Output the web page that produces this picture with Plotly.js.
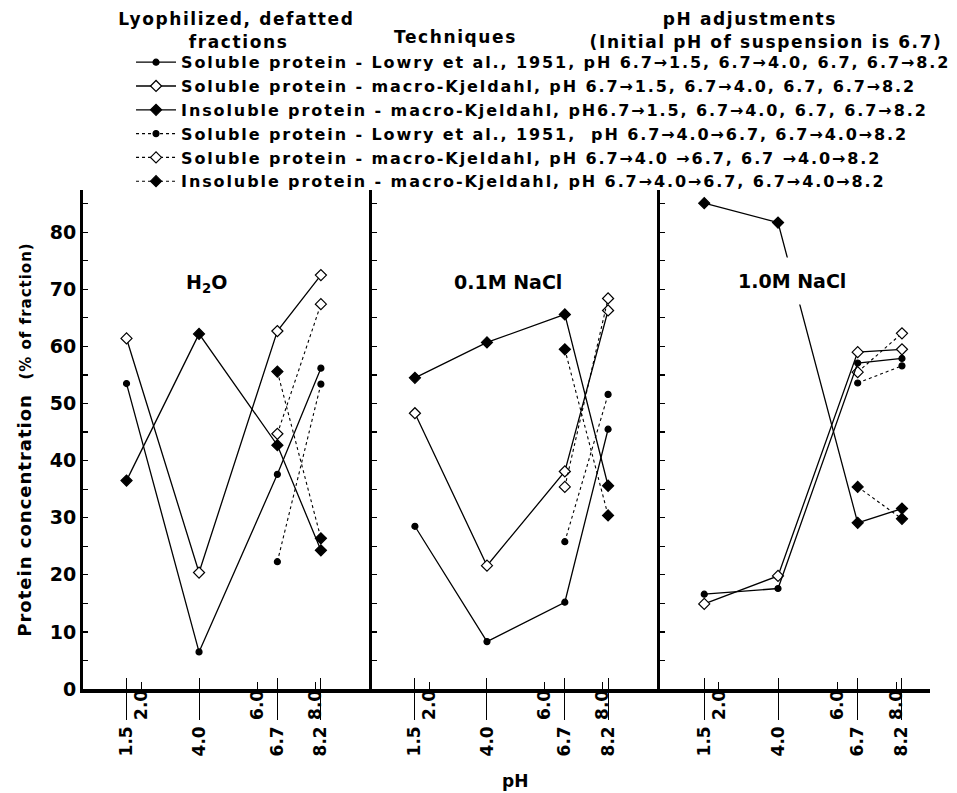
<!DOCTYPE html>
<html>
<head>
<meta charset="utf-8">
<script src="https://cdn.plot.ly/plotly-3.0.1.min.js"></script>
<style>
html,body{margin:0;padding:0;background:#fff;}
#chart{width:957px;height:793px;}
#chart .legendtext{letter-spacing:1.9px;}
#chart .legend g{clip-path:none !important;}
#chart .ytitle{letter-spacing:1px;}
#chart g.annotation[data-index="3"] text,
#chart g.annotation[data-index="4"] text,
#chart g.annotation[data-index="5"] text,
#chart g.annotation[data-index="6"] text,
#chart g.annotation[data-index="7"] text{letter-spacing:1.6px;}
</style>
</head>
<body>
<div id="chart"></div>
<script>
// ---------- data ----------
const panelNames = ['H<sub>2</sub>O', '0.1M NaCl', '1.0M NaCl'];
const solidX = [1.5, 4.0, 6.7, 8.2];
const dottedX = [6.7, 8.2];

// solid series (pH 6.7->1.5, 6.7->4.0, 6.7, 6.7->8.2), one row per panel
const lowrySolid   = [[53.5, 6.5, 37.6, 56.2], [28.5, 8.3, 15.2, 45.5], [16.6, 17.6, 57.1, 57.9]];
const kjSolSolid   = [[61.4, 20.4, 62.7, 72.5], [48.3, 21.6, 38.1, 66.3], [14.9, 19.8, 59.0, 59.5]];
const kjInsSolid   = [[36.5, 62.2, 42.7, 24.3], [54.5, 60.7, 65.6, 35.6], [85.1, 81.7, 29.1, 31.6]];
// dotted series (pH 6.7->4.0->6.7, 6.7->4.0->8.2)
const lowryDot     = [[22.3, 53.4], [25.8, 51.6], [53.6, 56.6]];
const kjSolDot     = [[44.7, 67.4], [35.4, 68.4], [55.5, 62.3]];
const kjInsDot     = [[55.6, 26.4], [59.5, 30.4], [35.4, 29.8]];

const seriesNames = [
  'Soluble protein - Lowry et al., 1951, pH 6.7\u21921.5, 6.7\u21924.0, 6.7, 6.7\u21928.2',
  'Soluble protein - macro-Kjeldahl, pH 6.7\u21921.5, 6.7\u21924.0, 6.7, 6.7\u21928.2',
  'Insoluble protein - macro-Kjeldahl, pH6.7\u21921.5, 6.7\u21924.0, 6.7, 6.7\u21928.2',
  'Soluble protein - Lowry et al., 1951,  pH 6.7\u21924.0\u21926.7, 6.7\u21924.0\u21928.2',
  'Soluble protein - macro-Kjeldahl, pH 6.7\u21924.0 \u21926.7, 6.7 \u21924.0\u21928.2',
  'Insoluble protein - macro-Kjeldahl, pH 6.7\u21924.0\u21926.7, 6.7\u21924.0\u21928.2'
];

const majorTicks = [1.5, 4.0, 6.7, 8.2];
const majorText  = ['1.5', '4.0', '6.7', '8.2'];
const minorTicks = [2.0, 6.0, 8.0];
const minorText  = ['2.0', '6.0', '8.0'];
const yTicks = [0, 10, 20, 30, 40, 50, 60, 70, 80];

// ---------- styling ----------
const xRanges = [[0, 9.95], [0, 10], [0, 9.15]];
const domains = [[0, 0.3408], [0.3408, 0.6812], [0.6812, 1]];
const yRange = [0, 87.4];
const FONT = 'DejaVu Sans';

// axisSet: 0 = main x axis, 1 = overlay carrying the short-tick labels, 2 = overlay carrying the inward tick stubs
const styles = [
  {data: lowrySolid, x: solidX, dash: 'solid', sym: 'circle', size: 6, fill: '#000', axisSet: 2},
  {data: kjSolSolid, x: solidX, dash: 'solid', sym: 'diamond', size: 8.5, fill: '#fff', axisSet: 0},
  {data: kjInsSolid, x: solidX, dash: 'solid', sym: 'diamond', size: 8.5, fill: '#000', axisSet: 0},
  {data: lowryDot,   x: dottedX, dash: 'dot', sym: 'circle', size: 6, fill: '#000', axisSet: 1},
  {data: kjSolDot,   x: dottedX, dash: 'dot', sym: 'diamond', size: 8.5, fill: '#fff', axisSet: 1},
  {data: kjInsDot,   x: dottedX, dash: 'dot', sym: 'diamond', size: 8.5, fill: '#000', axisSet: 1}
];

function xId(p, set) { const n = p + 1 + 3 * set; return n === 1 ? 'x' : 'x' + n; }
function yId(p) { return p === 0 ? 'y' : 'y' + (p + 1); }

const traces = [];
for (let p = 0; p < 3; p++) {
  styles.forEach((s, i) => {
    traces.push({
      type: 'scatter', mode: 'lines+markers',
      x: s.x, y: s.data[p], xaxis: xId(p, s.axisSet), yaxis: yId(p),
      name: seriesNames[i], legendgroup: 'g' + i, showlegend: p === 0,
      line: {color: '#000', width: s.dash === 'dot' ? 1.1 : 1.3, dash: s.dash},
      marker: {symbol: s.sym, size: s.size, color: s.fill, line: {color: '#000', width: 1.2}},
      hoverinfo: 'skip'
    });
  });
}

const layout = {
  width: 957, height: 793,
  margin: {l: 83, r: 27, t: 190, b: 104},
  paper_bgcolor: '#fff', plot_bgcolor: '#fff',
  font: {family: FONT, size: 17, color: '#000', weight: 'bold'},
  showlegend: true,
  legend: {
    x: 0.0567, y: 1.290, xanchor: 'left', yanchor: 'top',
    bgcolor: 'rgba(0,0,0,0)', itemwidth: 40, tracegroupgap: 0,
    font: {family: FONT, size: 16, color: '#000', weight: 'bold'}
  },
  annotations: []
};

for (let p = 0; p < 3; p++) {
  const main = xId(p, 0);
  const yid = yId(p);
  const axName = id => 'xaxis' + id.slice(1);
  // main x axis: long ticks with labels
  layout[axName(main)] = {
    domain: domains[p], range: xRanges[p], anchor: yid,
    showgrid: false, zeroline: false,
    showline: true, linewidth: 3.5, linecolor: '#000',
    tickmode: 'array', tickvals: majorTicks, ticktext: majorText,
    ticks: 'outside', ticklen: 27, tickwidth: 1, tickcolor: '#000',
    tickangle: -90, tickfont: {family: FONT, size: 17, weight: 'bold'}
  };
  // overlay: short ticks with labels
  layout[axName(xId(p, 1))] = {
    overlaying: main, anchor: yid, range: xRanges[p],
    showgrid: false, zeroline: false, showline: false,
    tickmode: 'array', tickvals: minorTicks, ticktext: minorText,
    ticks: 'outside', ticklen: 3, tickwidth: 1, tickcolor: '#000',
    ticklabelstandoff: -10,
    tickangle: -90, tickfont: {family: FONT, size: 17, weight: 'bold'}
  };
  // overlay: inward tick stubs
  layout[axName(xId(p, 2))] = {
    overlaying: main, anchor: yid, range: xRanges[p],
    showgrid: false, zeroline: false, showline: false, showticklabels: false,
    tickmode: 'array', tickvals: majorTicks,
    ticks: 'inside', ticklen: 11, tickwidth: 1, tickcolor: '#000',
    minor: {tickmode: 'array', tickvals: minorTicks, ticks: 'inside', ticklen: 7, tickwidth: 1, tickcolor: '#000', showgrid: false}
  };
  layout[p === 0 ? 'yaxis' : 'yaxis' + (p + 1)] = {
    domain: [0, 1], range: yRange, anchor: main,
    showgrid: false, zeroline: false,
    showline: true, linewidth: p === 0 ? 3 : 2.5, linecolor: '#000',
    tickmode: 'array', tickvals: yTicks,
    ticks: 'inside', ticklen: 5, tickwidth: 1.2, tickcolor: '#000',
    minor: {dtick: 5, tick0: 0, ticks: 'inside', ticklen: 5, tickwidth: 1.2, tickcolor: '#000', showgrid: false},
    showticklabels: p === 0,
    tickfont: {family: FONT, size: 19, weight: 'bold'}
  };
}
layout.yaxis.title = {
  text: 'Protein concentration  <span style="font-size:15px">(% of fraction)</span>',
  font: {family: FONT, size: 18, weight: 'bold'}, standoff: 14
};

// panel labels
const labelPos = [[0.429, 0.839], [0.473, 0.839], [0.489, 0.866]];
for (let p = 0; p < 3; p++) {
  layout.annotations.push({
    text: panelNames[p], xref: xId(p, 0) + ' domain', yref: yId(p) + ' domain',
    x: labelPos[p][0], y: labelPos[p][1], showarrow: false,
    font: {family: FONT, size: 19, weight: 'bold'},
    bgcolor: p === 2 ? '#fff' : 'rgba(0,0,0,0)', borderpad: p === 2 ? 12 : 0
  });
}
// legend headers and x title
const headers = [
  {text: 'Lyophilized, defatted', x: 0.181, y: 1.3427},
  {text: 'fractions', x: 0.183, y: 1.2966},
  {text: 'Techniques', x: 0.440, y: 1.3066},
  {text: 'pH adjustments', x: 0.787, y: 1.3427},
  {text: '(Initial pH of suspension is 6.7)', x: 0.806, y: 1.2966},
  {text: 'pH', x: 0.510, y: -0.184}
];
headers.forEach(h => layout.annotations.push({
  text: h.text, xref: 'paper', yref: 'paper', x: h.x, y: h.y,
  xanchor: 'center', yanchor: 'middle', showarrow: false,
  font: {family: FONT, size: 17, weight: 'bold'}
}));

Plotly.newPlot('chart', traces, layout, {staticPlot: true, displayModeBar: false});
</script>
</body>
</html>
